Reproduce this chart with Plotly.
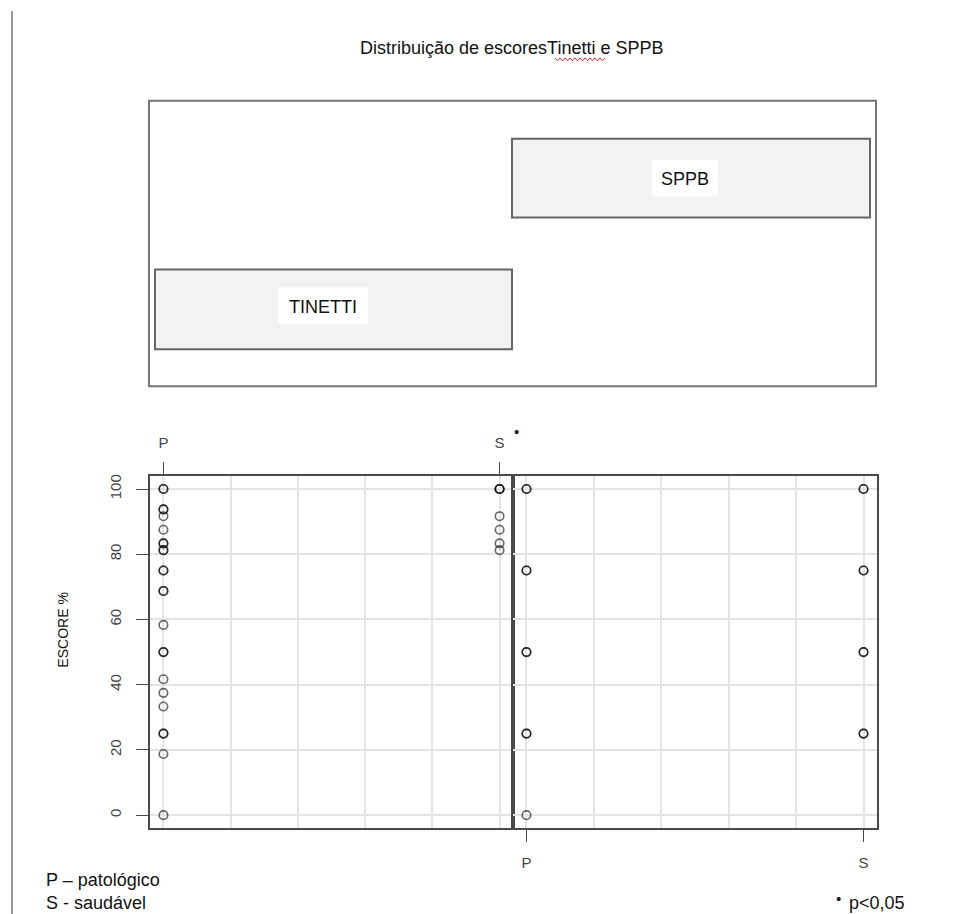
import plotly.graph_objects as go

# ---------------- data ----------------
GROUPS = ["P", "S"]
GROUP_POS = [1, 2]
PANELS = ["TINETTI", "SPPB"]
Y_TICKS = [0, 20, 40, 60, 80, 100]

# TINETTI scores (%) - repeated values are overlapping subjects
TINETTI_P = [100, 100, 93.75, 93.75, 91.67, 87.5, 83.33, 83.33, 81.25, 81.25,
             75, 75, 68.75, 68.75, 58.33, 50, 50, 41.67, 37.5, 33.33,
             25, 25, 18.75, 0]
TINETTI_S = [100, 100, 100, 91.67, 87.5, 83.33, 81.25]
# SPPB scores (%)
SPPB_P = [100, 100, 75, 75, 50, 50, 25, 25, 0]
SPPB_S = [100, 100, 75, 75, 50, 50, 25, 25]

TITLE = "Distribuição de escoresTinetti e SPPB"
Y_TITLE = "ESCORE %"
NOTE_P = "P – patológico"
NOTE_S = "S - saudável"
NOTE_SIG = "p<0,05"

# ---------------- layout helpers ----------------
# page has an 8px body margin; figure is placed at (8, 8)
OFF = 8
W, H = 956, 906
def px(x):
    return (x - OFF) / W
def py(y):
    return 1 - (y - OFF) / H

FONT_R = "Liberation Sans, Arial, sans-serif"
FONT_DOC = "Liberation Sans, Arial, sans-serif"
GRID = "#e4e4e4"
FRAME = "#4a4a4a"
PT = "rgba(0,0,0,0.6)"

fig = go.Figure()

def add_pts(vals, grp, xa, ya):
    xpos = GROUP_POS[GROUPS.index(grp)]
    fig.add_trace(go.Scatter(
        x=[xpos] * len(vals), y=vals, mode="markers",
        xaxis=xa, yaxis=ya, showlegend=False, hoverinfo="y",
        marker=dict(symbol="circle-open", size=8.5, color=PT,
                    line=dict(width=1.6, color=PT)),
    ))

add_pts(TINETTI_P, "P", "x", "y")
add_pts(TINETTI_S, "S", "x", "y")
add_pts(SPPB_P, "P", "x2", "y2")
add_pts(SPPB_S, "S", "x2", "y2")

common_x = dict(
    range=[0.96, 2.04], tickvals=GROUP_POS, ticktext=GROUPS,
    ticks="outside", ticklen=12, tickwidth=1.2, tickcolor=FRAME,
    tickfont=dict(family=FONT_R, size=15, color="#444"),
    showgrid=True, gridcolor=GRID, gridwidth=1.5,
    minor=dict(tickvals=[1.2, 1.4, 1.6, 1.8], showgrid=True,
               gridcolor=GRID, gridwidth=1.5, ticks=""),
    showline=True, mirror=True, linecolor=FRAME, linewidth=1.6,
    zeroline=False, fixedrange=True, ticklabelstandoff=8,
)
common_y = dict(
    range=[-4, 104], tickvals=Y_TICKS,
    showgrid=True, gridcolor=GRID, gridwidth=1.5,
    showline=True, mirror=True, linecolor=FRAME, linewidth=1.6,
    zeroline=False, domain=[py(828), py(475)],
)

fig.update_layout(
    width=W, height=H, autosize=False,
    margin=dict(l=0, r=0, t=0, b=0),
    paper_bgcolor="white", plot_bgcolor="white",
    xaxis=dict(domain=[px(150), px(513)], side="top", anchor="y", **common_x),
    xaxis2=dict(domain=[px(513), px(877)], side="bottom", anchor="y2", **common_x),
    yaxis=dict(anchor="x", ticks="outside", ticklen=12, tickwidth=1.2,
               tickcolor=FRAME, tickangle=-90, ticklabelstandoff=9,
               tickfont=dict(family=FONT_R, size=15, color="#444"),
               **common_y),
    yaxis2=dict(anchor="x2", matches="y", showticklabels=False, ticks="",
                **common_y),
)

shapes = []
# page margin line
shapes.append(dict(type="line", xref="paper", yref="paper",
                   x0=px(12), x1=px(12), y0=py(9), y1=py(914),
                   line=dict(color="#777", width=1.5)))
# top strip container
shapes.append(dict(type="rect", xref="paper", yref="paper",
                   x0=px(149), x1=px(876), y0=py(385), y1=py(99),
                   line=dict(color="#777", width=2), fillcolor="rgba(0,0,0,0)"))
# strip boxes
strip_boxes = {"TINETTI": (155, 512, 268, 348), "SPPB": (512, 870, 137, 216)}
label_boxes = {"TINETTI": (278, 368, 286, 323), "SPPB": (652, 718, 158, 195)}
for name in PANELS:
    x0, x1, y0, y1 = strip_boxes[name]
    shapes.append(dict(type="rect", xref="paper", yref="paper",
                       x0=px(x0), x1=px(x1), y0=py(y1), y1=py(y0),
                       line=dict(color="#666", width=2), fillcolor="#f2f2f2"))
    lx0, lx1, ly0, ly1 = label_boxes[name]
    shapes.append(dict(type="rect", xref="paper", yref="paper",
                       x0=px(lx0), x1=px(lx1), y0=py(ly1), y1=py(ly0),
                       line=dict(width=0), fillcolor="white"))

# spell-check squiggle under "Tinetti"
pts = []
xx = 555
i = 0
while xx <= 606:
    yy = 56 if i % 2 == 0 else 59
    pts.append(f"{px(xx):.5f},{py(yy):.5f}")
    xx += 2.5
    i += 1
shapes.append(dict(type="path", xref="paper", yref="paper",
                   path="M " + " L ".join(pts),
                   line=dict(color="#e03030", width=1)))
fig.update_layout(shapes=shapes)


def note(text, x, y, size, xanchor="center", family=FONT_DOC, **kw):
    return dict(text=text, x=px(x), y=py(y), xref="paper", yref="paper",
                xanchor=xanchor, yanchor="middle", showarrow=False,
                font=dict(family=family, size=size, color="#111"), **kw)


ann = []
ann.append(note(TITLE, 511, 46, 18))
label_centers = {"TINETTI": (323, 306), "SPPB": (685, 177)}
for name in PANELS:
    cx, cy = label_centers[name]
    ann.append(note(name, cx, cy, 18))
ann.append(note(Y_TITLE, 63, 630, 14, family=FONT_R, textangle=-90))
ann.append(note(NOTE_P, 44, 880, 18, xanchor="left"))
ann.append(note(NOTE_S, 44, 903, 18, xanchor="left"))
ann.append(note(NOTE_SIG, 847, 903, 18, xanchor="left"))
ann.append(note("•", 838, 898, 15, family=FONT_R))
ann.append(note("•", 516, 430, 15, family=FONT_R))
fig.update_layout(annotations=ann)

fig.write_html("out.html")
